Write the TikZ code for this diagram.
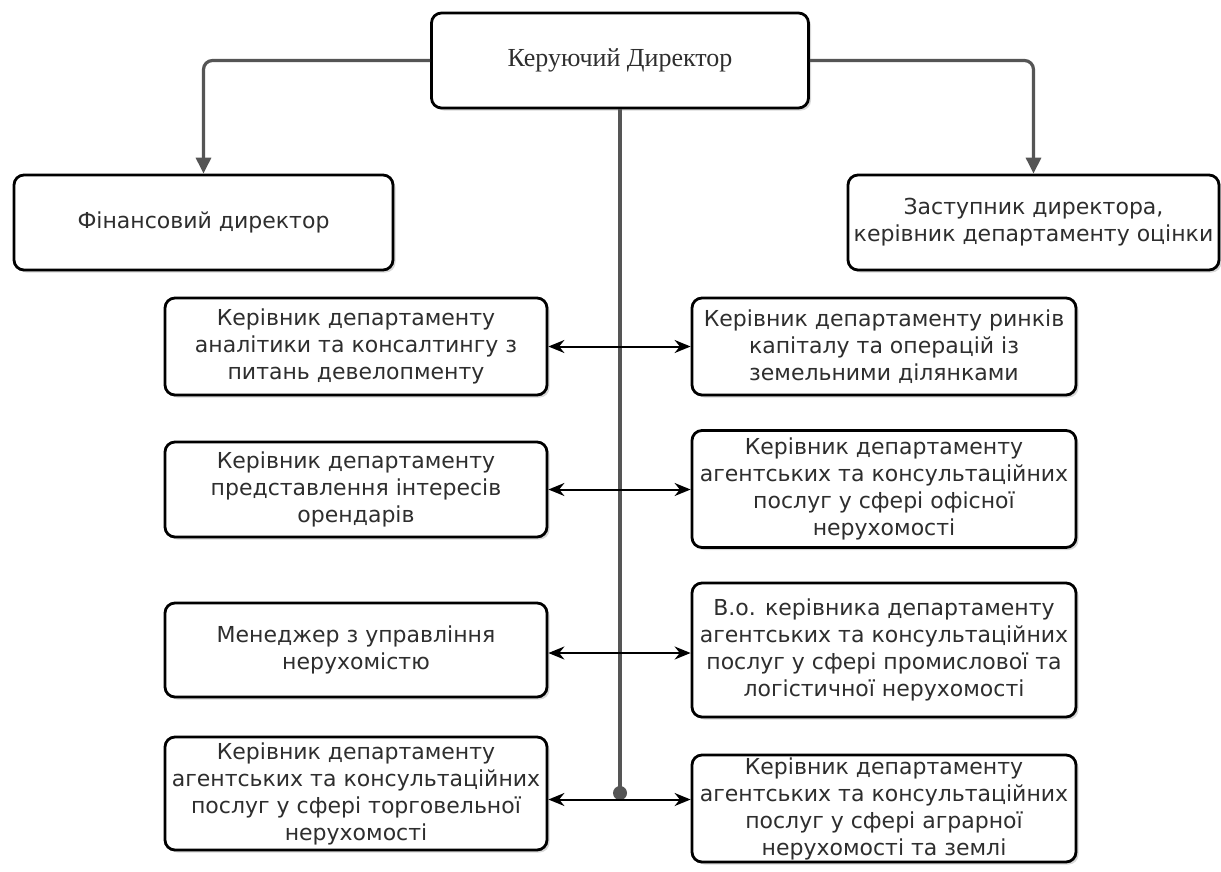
\documentclass[tikz,border=0pt]{standalone}
\usepackage{fontspec}
\setmainfont{DejaVu Sans}
\newfontfamily\dirfont{Liberation Serif}
\usetikzlibrary{arrows.meta,shadows}
\definecolor{linegray}{HTML}{555555}
\definecolor{txtgray}{HTML}{2E2E2E}

\begin{document}
\begin{tikzpicture}[x=1pt,y=-1pt,
        box/.style={draw=black,line width=2.8pt,rounded corners=10pt,fill=white,
            align=center,inner sep=0pt,text=txtgray,
            font=\fontsize{22}{27}\selectfont,
            drop shadow={opacity=0.3,shadow xshift=2.5pt,shadow yshift=-2.5pt}},
        link/.style={draw=linegray,line width=3.2pt,rounded corners=9pt,
            -{Triangle[length=16pt,width=15pt]}},
        both/.style={line width=2pt,
            {Stealth[length=16pt,width=13pt]}-{Stealth[length=16pt,width=13pt]}},
        dot/.style={circle,fill=linegray,minimum size=14pt,inner sep=0pt}]
    \fill[white] (0,0) rectangle (1221,871);
    \useasboundingbox (0,0) rectangle (1221,871);

    % top level
    \node[box,minimum width=377pt,minimum height=95pt,
        font=\dirfont\fontsize{26}{30}\selectfont] (dir) at (620,60.5) {Керуючий Директор};
    \node[box,minimum width=379pt,minimum height=95pt] (fin) at (203.5,222.5) {Фінансовий директор};
    \node[box,minimum width=371pt,minimum height=95pt] (dep) at (1033.5,222.5)
        {Заступник директора,\\керівник департаменту оцінки};

    % left column
    \node[box,minimum width=382pt,minimum height=97pt] (anal) at (356,346.5)
        {Керівник департаменту\\аналітики та консалтингу з\\питань девелопменту};
    \node[box,minimum width=382pt,minimum height=95pt] (tenant) at (356,489.5)
        {Керівник департаменту\\представлення інтересів\\орендарів};
    \node[box,minimum width=382pt,minimum height=94pt] (manager) at (356,650)
        {Менеджер з управління\\нерухомістю};
    \node[box,minimum width=382pt,minimum height=113pt] (retail) at (356,793.5)
        {Керівник департаменту\\агентських та консультаційних\\послуг у сфері торговельної\\нерухомості};

    % right column
    \node[box,minimum width=384pt,minimum height=97pt] (capital) at (884,346.5)
        {Керівник департаменту ринків\\капіталу та операцій із\\земельними ділянками};
    \node[box,minimum width=384pt,minimum height=117pt] (office) at (884,489)
        {Керівник департаменту\\агентських та консультаційних\\послуг у сфері офісної\\нерухомості};
    \node[box,minimum width=384pt,minimum height=134pt] (industry) at (884,650)
        {В.о. керівника департаменту\\агентських та консультаційних\\послуг у сфері промислової та\\логістичної нерухомості};
    \node[box,minimum width=384pt,minimum height=107pt] (agro) at (884,808.5)
        {Керівник департаменту\\агентських та консультаційних\\послуг у сфері аграрної\\нерухомості та землі};

    \coordinate (hub) at (620,793);
    \draw[link] (dir.west) -| (fin.north);
    \draw[link] (dir.east) -| (dep.north);
    \draw[draw=linegray,line width=3.4pt] (dir.south) -- (hub);
    \node[dot] (hubdot) at (hub) {};

    \foreach \l/\r/\s in {anal/capital/0, tenant/office/0, manager/industry/-3, retail/agro/-6}
        \draw[both] ([yshift=\s pt]\l.east) -- ([yshift=\s pt]\l.east -| \r.west);
\end{tikzpicture}
\end{document}
